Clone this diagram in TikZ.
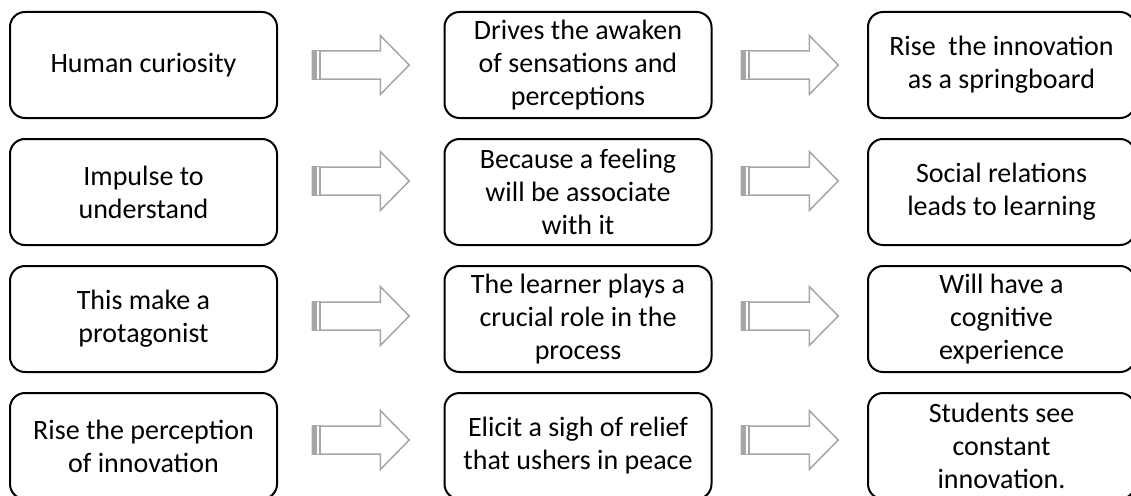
\documentclass[tikz,border=0pt]{standalone}
\usepackage{fontspec}
\setmainfont{Carlito}
\usetikzlibrary{calc}
\definecolor{arrowgray}{RGB}{166,166,166}
\tikzset{
  stepbox/.style={draw,line width=2pt,rounded corners=15pt,minimum width=267pt,
    minimum height=106pt,inner sep=0pt,align=center,
    font=\fontsize{28}{33}\selectfont},
  arrowline/.style={draw=arrowgray,line width=1.5pt,fill=white},
}
\begin{document}
\begin{tikzpicture}[x=1pt,y=-1pt]
        \useasboundingbox (0,0) rectangle (1131,495);
        % boxes, one row at a time
        \node[stepbox] (b11) at (143.5,65) {Human curiosity};
        \node[stepbox] (b12) at (578,65) {Drives the awaken\\of sensations and\\perceptions};
        \node[stepbox] (b13) at (1001.5,65) {Rise\ \ the innovation\\as a springboard};
        \node[stepbox] (b21) at (143.5,192) {Impulse to\\understand};
        \node[stepbox] (b22) at (578,192) {Because a feeling\\will be associate\\with it};
        \node[stepbox] (b23) at (1001.5,192) {Social relations\\leads to learning};
        \node[stepbox] (b31) at (143.5,319) {This make a\\protagonist};
        \node[stepbox] (b32) at (578,319) {The learner plays a\\crucial role in the\\process};
        \node[stepbox] (b33) at (1001.5,319) {Will have a\\cognitive\\experience};
        \node[stepbox] (b41) at (143.5,446) {Rise the perception\\of innovation};
        \node[stepbox] (b42) at (578,446) {Elicit a sigh of relief\\that ushers in peace};
        \node[stepbox] (b43) at (1001.5,446) {Students see\\constant\\innovation.};
        % hollow arrows between the boxes
        \foreach \r/\dy in {1/0,2/-11,3/-3,4/-6}
            \foreach \a/\b in {1/2,2/3} {
                \coordinate (m) at ($(b\r\a.east)!.5!(b\r\b.west)+(0,\dy)$);
                \begin{scope}[shift={(m)}]
                    \draw[arrowline] (-48.5,-14) -- (19.5,-14) -- (19.5,-29.5) -- (48.5,0)
                        -- (19.5,29.5) -- (19.5,14) -- (-48.5,14) -- cycle;
                    \fill[arrowgray] (-49.25,-14.75) rectangle (-39.5,14.75);
                    \draw[white,line width=1.3pt] (-42.8,-14) -- (-42.8,14);
                \end{scope}
            }
    \end{tikzpicture}
\end{document}
